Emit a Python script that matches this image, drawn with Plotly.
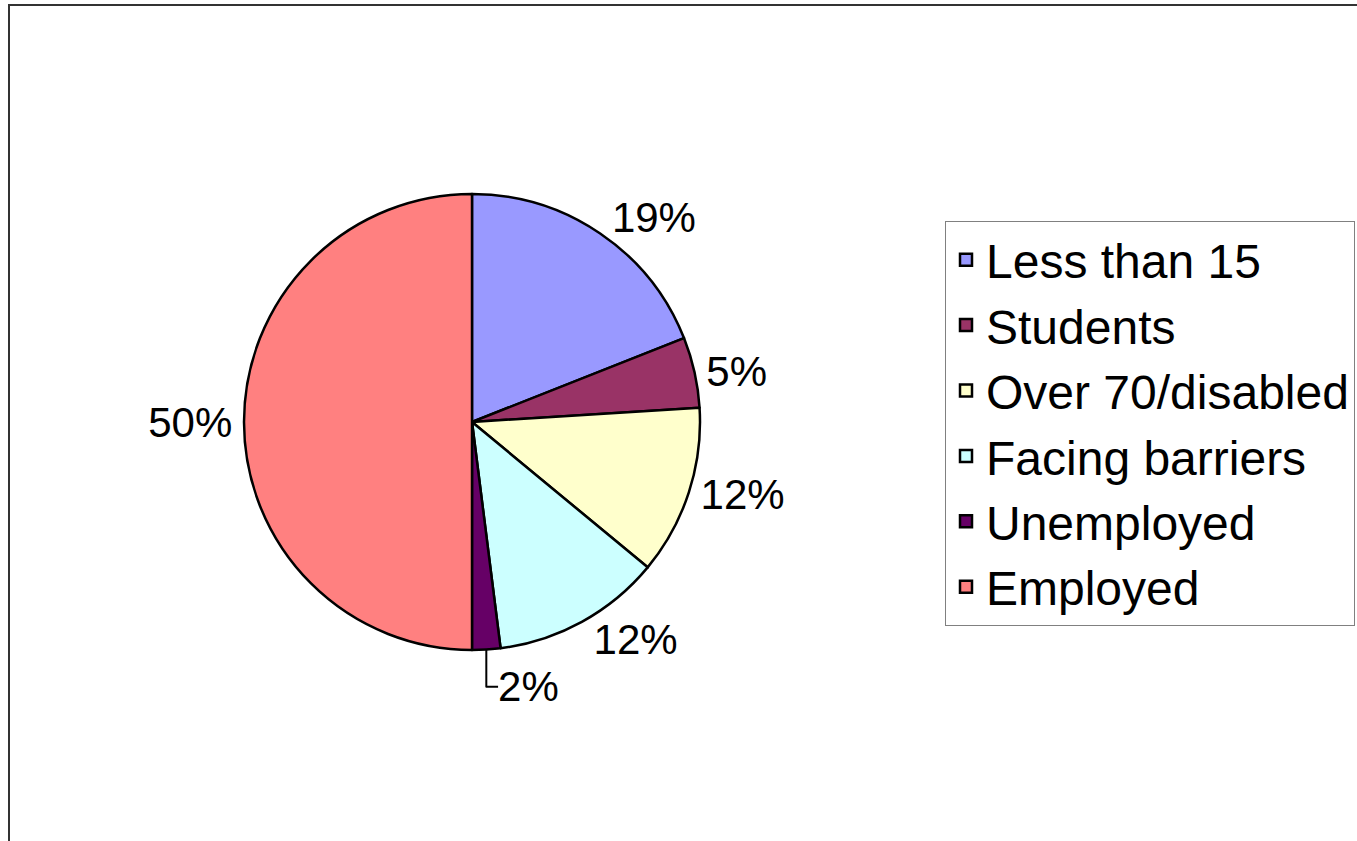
import plotly.graph_objects as go

categories = ["Less than 15", "Students", "Over 70/disabled", "Facing barriers", "Unemployed", "Employed"]
values = [19, 5, 12, 12, 2, 50]
colors = ["#9999FF", "#993366", "#FFFFCC", "#CCFFFF", "#660066", "#FF8080"]

W, H = 1357, 841
cx, cy, r = 472, 422, 228

fig = go.Figure(go.Pie(
    labels=categories,
    values=values,
    sort=False,
    direction="clockwise",
    rotation=0,
    marker=dict(colors=colors, line=dict(color="black", width=2.5)),
    textinfo="percent",
    texttemplate="%{percent:.0%}",
    textposition="outside",
    textfont=dict(family="Liberation Sans, Arial", size=42, color="black"),
    domain=dict(x=[(cx - r) / W, (cx + r) / W], y=[(H - cy - r) / H, (H - cy + r) / H]),
    hoverinfo="label+percent",
))

fig.update_layout(
    width=W, height=H,
    margin=dict(l=0, r=0, t=0, b=0),
    paper_bgcolor="white",
    plot_bgcolor="white",
    font=dict(family="Liberation Sans, Arial", color="black"),
    legend=dict(
        x=945 / W, xanchor="left",
        y=1 - 221 / H, yanchor="top",
        font=dict(size=48, family="Liberation Sans, Arial", color="black"),
        bordercolor="#808080", borderwidth=1,
        bgcolor="white",
    ),
    shapes=[dict(type="rect", xref="paper", yref="paper",
                 x0=9 / W, x1=1.02, y0=-0.02, y1=1 - 5 / H,
                 line=dict(color="#333333", width=2), fillcolor="rgba(0,0,0,0)")],
)

fig.write_html("out.html", config={"displayModeBar": False},
               post_script="document.body.style.margin='0';")
